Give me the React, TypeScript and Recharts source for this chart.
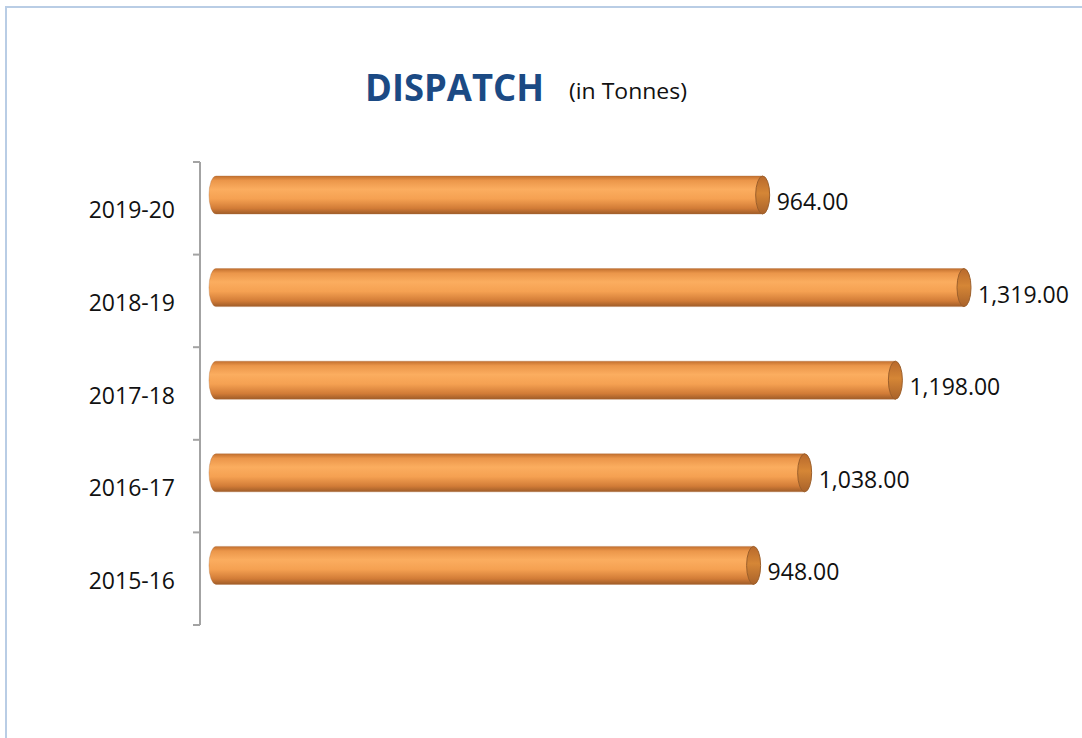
import React from "react";
import { Bar, BarChart, LabelList, XAxis, YAxis } from "recharts";

// ─── Data ────────────────────────────────────────────────────

const years = ["2019-20", "2018-19", "2017-18", "2016-17", "2015-16"];
const dispatch = [964, 1319, 1198, 1038, 948];

const data = years.map((year, i) => ({ year, dispatch: dispatch[i] }));

// ─── Style constants ─────────────────────────────────────────

const FONT = "'Open Sans', 'Noto Sans', sans-serif";
const AXIS_GRAY = "#a3a3a3";
const BAR_LIFT = 13; // cylinders sit a little above the band centre
const CAP_RX = 7;

const fmt = (v: number) =>
  v.toLocaleString("en-US", { minimumFractionDigits: 2, maximumFractionDigits: 2 });

// ─── Cylinder bar ────────────────────────────────────────────

function Cylinder(props: any) {
  const { x, y, width, height } = props;
  if (width == null || height == null) return null;
  const top = y - BAR_LIFT;
  const ry = height / 2;
  const x1 = x + width;
  const body = `M ${x} ${top} L ${x1} ${top} L ${x1} ${top + height} L ${x} ${top + height} A ${CAP_RX} ${ry} 0 0 1 ${x} ${top} Z`;
  return (
    <g>
      <path d={body} fill="url(#cyl-body)" stroke="#b07040" strokeOpacity={0.35} strokeWidth={1} />
      <ellipse cx={x1} cy={top + ry} rx={CAP_RX} ry={ry} fill="url(#cyl-cap)" stroke="#9c5f2b" strokeWidth={1} />
    </g>
  );
}

// ─── Value label ─────────────────────────────────────────────

function ValueLabel(props: any) {
  const { x, y, width, height, value } = props;
  return (
    <text
      x={x + width + 14}
      y={y + height / 2 - 7}
      dominantBaseline="central"
      fontFamily={FONT}
      fontSize={23}
      fill="#111"
    >
      {fmt(value)}
    </text>
  );
}

// ─── Category tick with boundary tick marks ──────────────────

function CategoryTick(props: any) {
  const { x, y, payload, index, visibleTicksCount } = props;
  const half = payload.offset ?? 0;
  const lx2 = x + 25;
  const lx1 = x + 18;
  return (
    <g>
      <line x1={lx1} x2={lx2} y1={y - half} y2={y - half} stroke={AXIS_GRAY} strokeWidth={2} />
      {index === visibleTicksCount - 1 && (
        <line x1={lx1} x2={lx2} y1={y + half} y2={y + half} stroke={AXIS_GRAY} strokeWidth={2} />
      )}
      <text
        x={x}
        y={y + 1}
        textAnchor="end"
        dominantBaseline="central"
        fontFamily={FONT}
        fontSize={23}
        fill="#111"
      >
        {payload.value}
      </text>
    </g>
  );
}

// ─── App ─────────────────────────────────────────────────────

export default function App() {
  return (
    <div
      style={{
        position: "absolute",
        left: 0,
        top: 0,
        width: 1082,
        height: 738,
        overflow: "hidden",
        background: "#fff",
      }}
    >
      <div
        style={{
          position: "absolute",
          left: 5,
          top: 6,
          width: 1200,
          height: 900,
          border: "2px solid #b9cde5",
        }}
      />
      <svg
        width={1082}
        height={140}
        style={{ position: "absolute", left: 0, top: 0 }}
      >
        <text
          x={365}
          y={101}
          fontFamily={FONT}
          fontWeight={700}
          fontSize={38}
          fill="#1b4a84"
          textLength={179}
          lengthAdjust="spacingAndGlyphs"
        >
          DISPATCH
        </text>
        <text
          x={569}
          y={99}
          fontFamily={FONT}
          fontSize={21}
          fill="#111"
          textLength={118}
          lengthAdjust="spacingAndGlyphs"
        >
          (in Tonnes)
        </text>
      </svg>
      <div style={{ position: "absolute", left: 0, top: 0 }}>
        <BarChart
          width={1082}
          height={738}
          data={data}
          layout="vertical"
          margin={{ top: 162, right: 42, bottom: 113, left: 100 }}
        >
          <defs>
            <linearGradient id="cyl-body" x1="0" y1="0" x2="0" y2="1">
              <stop offset="0%" stopColor="#c26f2e" />
              <stop offset="12%" stopColor="#eb964a" />
              <stop offset="35%" stopColor="#fbad5f" />
              <stop offset="60%" stopColor="#f5a152" />
              <stop offset="85%" stopColor="#d27c37" />
              <stop offset="100%" stopColor="#9f5c28" />
            </linearGradient>
            <linearGradient id="cyl-cap" x1="0" y1="0" x2="0" y2="1">
              <stop offset="0%" stopColor="#b8692c" />
              <stop offset="45%" stopColor="#d58636" />
              <stop offset="100%" stopColor="#a9622a" />
            </linearGradient>
          </defs>
          <XAxis type="number" hide scale="linear" domain={[-28.2, 1453]} />
          <YAxis
            type="category"
            dataKey="year"
            width={100}
            tickSize={7}
            tickMargin={18}
            tickLine={false}
            axisLine={{ stroke: AXIS_GRAY, strokeWidth: 2 }}
            tick={<CategoryTick />}
            interval={0}
          />
          <Bar
            dataKey="dispatch"
            barSize={38}
            shape={(p: any) => <Cylinder {...p} />}
            isAnimationActive={false}
          >
            <LabelList dataKey="dispatch" content={<ValueLabel />} />
          </Bar>
        </BarChart>
      </div>
    </div>
  );
}
